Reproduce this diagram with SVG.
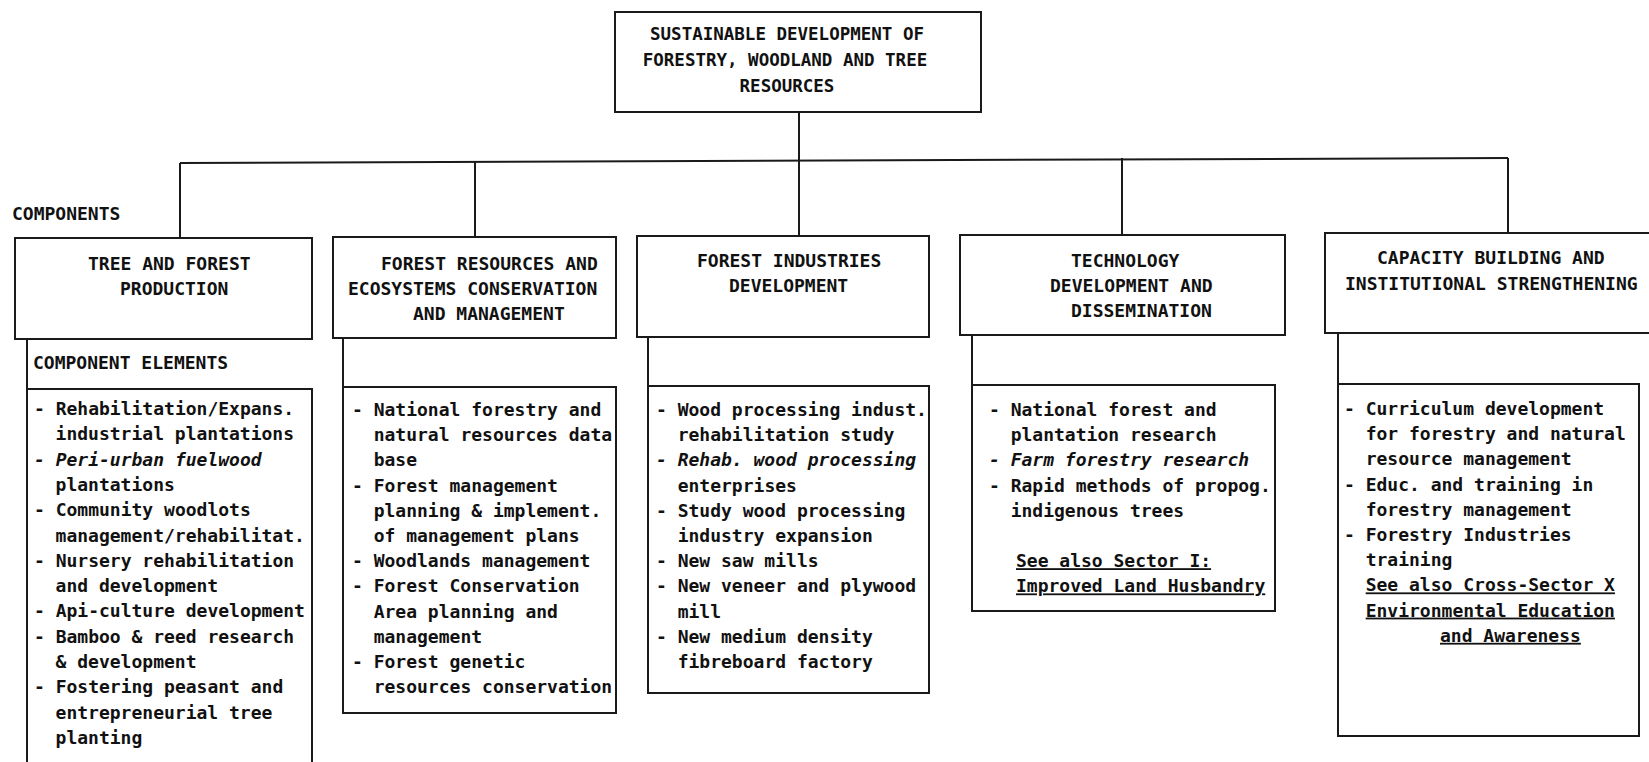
<svg xmlns="http://www.w3.org/2000/svg" width="1649" height="762" viewBox="0 0 1649 762">
<style>
.t{font-family:"DejaVu Sans Mono","Liberation Mono",monospace;font-weight:bold;font-size:18px;fill:#111}
.h{font-family:"DejaVu Sans Mono","Liberation Mono",monospace;font-weight:bold;font-size:17.5px;fill:#111}
.i{font-style:italic}
.u{text-decoration:underline}
.b{fill:none;stroke:#1a1a1a;stroke-width:2}
</style>
<rect width="1649" height="762" fill="#fff"/>
<g id="connectors" class="b">
<path d="M799,112 V236"/>
<path d="M180,163 L1508,158"/>
<path d="M180,163 V238"/>
<path d="M475,162 V237"/>
<path d="M1122,158 V235"/>
<path d="M1508,158 V233"/>
<path d="M27,339 V389"/>
<path d="M343,338 V387"/>
<path d="M648,337 V386"/>
<path d="M972,335 V385"/>
<path d="M1338,333 V384"/>
</g>
<g id="root">
<rect class="b" x="615" y="12" width="366" height="100"/>
<text class="h" x="787" y="40" text-anchor="middle">SUSTAINABLE DEVELOPMENT OF</text>
<text class="h" x="785" y="66" text-anchor="middle">FORESTRY, WOODLAND AND TREE</text>
<text class="h" x="787" y="92" text-anchor="middle">RESOURCES</text>
</g>
<g id="label-components"><text class="t" x="12" y="219.5">COMPONENTS</text></g>
<g id="comp1">
<rect class="b" x="15" y="238" width="297" height="101"/>
<text class="t" x="88" y="269.5">TREE AND FOREST</text>
<text class="t" x="120" y="294.5">PRODUCTION</text>
</g>
<g id="comp2">
<rect class="b" x="333" y="237" width="283" height="101"/>
<text class="t" x="381" y="269.5">FOREST RESOURCES AND</text>
<text class="t" x="348" y="294.5">ECOSYSTEMS CONSERVATION</text>
<text class="t" x="413" y="319.5">AND MANAGEMENT</text>
</g>
<g id="comp3">
<rect class="b" x="637" y="236" width="292" height="101"/>
<text class="t" x="697" y="266.5">FOREST INDUSTRIES</text>
<text class="t" x="729" y="291.5">DEVELOPMENT</text>
</g>
<g id="comp4">
<rect class="b" x="960" y="235" width="325" height="100"/>
<text class="t" x="1071" y="266.5">TECHNOLOGY</text>
<text class="t" x="1050" y="291.5">DEVELOPMENT AND</text>
<text class="t" x="1071" y="316.5">DISSEMINATION</text>
</g>
<g id="comp5">
<rect class="b" x="1325" y="233" width="330" height="100"/>
<text class="t" x="1377" y="263.5">CAPACITY BUILDING AND</text>
<text class="t" x="1345" y="289.5">INSTITUTIONAL STRENGTHENING</text>
</g>
<g id="label-elements"><text class="t" x="33" y="368.5">COMPONENT ELEMENTS</text></g>
<g id="elements1">
<path class="b" d="M27,389 V764 M27,389 H312 V764"/>
<text class="t" x="34" y="415">- Rehabilitation/Expans.</text>
<text class="t" x="55.6" y="440.3">industrial plantations</text>
<text class="t i" x="34" y="465.6">- Peri-urban fuelwood</text>
<text class="t" x="55.6" y="490.9">plantations</text>
<text class="t" x="34" y="516.2">- Community woodlots</text>
<text class="t" x="55.6" y="541.5">management/rehabilitat.</text>
<text class="t" x="34" y="566.8">- Nursery rehabilitation</text>
<text class="t" x="55.6" y="592.1">and development</text>
<text class="t" x="34" y="617.4">- Api-culture development</text>
<text class="t" x="34" y="642.7">- Bamboo &amp; reed research</text>
<text class="t" x="55.6" y="668">&amp; development</text>
<text class="t" x="34" y="693.3">- Fostering peasant and</text>
<text class="t" x="55.6" y="718.6">entrepreneurial tree</text>
<text class="t" x="55.6" y="743.9">planting</text>
</g>
<g id="elements2">
<rect class="b" x="343" y="387" width="273" height="326"/>
<text class="t" x="352" y="416">- National forestry and</text>
<text class="t" x="373.7" y="441.2">natural resources data</text>
<text class="t" x="373.7" y="466.4">base</text>
<text class="t" x="352" y="491.6">- Forest management</text>
<text class="t" x="373.7" y="516.8">planning &amp; implement.</text>
<text class="t" x="373.7" y="542">of management plans</text>
<text class="t" x="352" y="567.2">- Woodlands management</text>
<text class="t" x="352" y="592.4">- Forest Conservation</text>
<text class="t" x="373.7" y="617.6">Area planning and</text>
<text class="t" x="373.7" y="642.8">management</text>
<text class="t" x="352" y="668">- Forest genetic</text>
<text class="t" x="373.7" y="693.2">resources conservation</text>
</g>
<g id="elements3">
<rect class="b" x="648" y="386" width="281" height="307"/>
<text class="t" x="656" y="416">- Wood processing indust.</text>
<text class="t" x="677.7" y="441.2">rehabilitation study</text>
<text class="t i" x="656" y="466.4">- Rehab. wood processing</text>
<text class="t" x="677.7" y="491.6">enterprises</text>
<text class="t" x="656" y="516.8">- Study wood processing</text>
<text class="t" x="677.7" y="542">industry expansion</text>
<text class="t" x="656" y="567.2">- New saw mills</text>
<text class="t" x="656" y="592.4">- New veneer and plywood</text>
<text class="t" x="677.7" y="617.6">mill</text>
<text class="t" x="656" y="642.8">- New medium density</text>
<text class="t" x="677.7" y="668">fibreboard factory</text>
</g>
<g id="elements4">
<rect class="b" x="972" y="385" width="303" height="226"/>
<text class="t" x="989" y="416">- National forest and</text>
<text class="t" x="1010.7" y="441.2">plantation research</text>
<text class="t i" x="989" y="466.4">- Farm forestry research</text>
<text class="t" x="989" y="491.6">- Rapid methods of propog.</text>
<text class="t" x="1010.7" y="516.8">indigenous trees</text>
<text class="t u" x="1016" y="567.2">See also Sector I:</text>
<text class="t u" x="1016" y="592.4">Improved Land Husbandry</text>
</g>
<g id="elements5">
<rect class="b" x="1338" y="384" width="301" height="352"/>
<text class="t" x="1344" y="415">- Curriculum development</text>
<text class="t" x="1365.7" y="440.2">for forestry and natural</text>
<text class="t" x="1365.7" y="465.4">resource management</text>
<text class="t" x="1344" y="490.6">- Educ. and training in</text>
<text class="t" x="1365.7" y="515.8">forestry management</text>
<text class="t" x="1344" y="541">- Forestry Industries</text>
<text class="t" x="1365.7" y="566.2">training</text>
<text class="t u" x="1365.7" y="591.4">See also Cross-Sector X</text>
<text class="t u" x="1365.7" y="616.6">Environmental Education</text>
<text class="t u" x="1440" y="641.8">and Awareness</text>
</g>
</svg>
